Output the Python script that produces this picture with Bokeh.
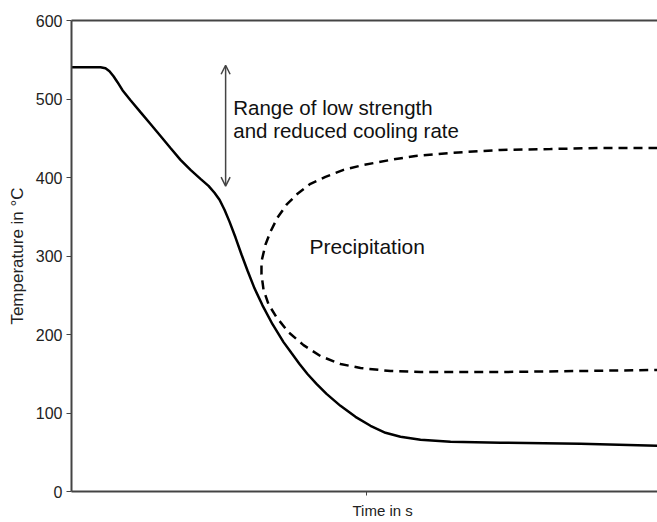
from bokeh.plotting import figure
from bokeh.models import Range1d, FixedTicker, LinearAxis, Arrow, OpenHead, Title
from bokeh.core.properties import value
from bokeh.embed import file_html
from bokeh.resources import INLINE

# ---- data (time axis has arbitrary units) ----
cool_time = [0, 4.95, 5.80, 6.48, 7.17, 7.85, 8.70, 10.07, 11.77, 13.48, 15.19, 16.89,
             18.60, 20.31, 22.01, 23.38, 24.40, 25.26, 26.11, 26.96, 27.99, 29.01,
             30.03, 31.23, 32.59, 34.30, 36.18, 37.54, 38.91, 40.27, 41.81, 43.52,
             45.90, 48.46, 51.02, 53.58, 56.14, 59.56, 64.68, 73.21, 86.86, 100.0]
cool_temp = [540.4, 540.4, 539.1, 535.3, 529.0, 521.4, 511.2, 498.5, 483.3, 468.1, 452.8, 437.6,
             422.4, 409.7, 398.3, 389.4, 380.6, 371.7, 359.0, 343.8, 323.5, 301.9,
             281.6, 258.8, 237.2, 213.1, 190.3, 176.3, 162.4, 149.7, 137.0, 124.3,
             109.1, 95.1, 83.7, 74.8, 69.8, 66.0, 63.4, 62.1, 60.9, 58.4]

precip_time = [100.0, 90.27, 81.74, 73.21, 64.68, 58.70, 54.44, 49.83, 46.42, 43.34, 40.78,
               38.57, 36.69, 35.15, 33.96, 33.11, 32.42, 32.42, 32.76, 33.62, 34.98,
               37.03, 39.59, 42.49, 45.90, 49.32, 54.44, 59.56, 73.21, 86.86, 100.0]
precip_temp = [437.6, 437.6, 436.3, 435.1, 431.3, 427.5, 422.4, 416.0, 409.7, 400.8, 392.0,
               379.3, 365.3, 348.8, 331.1, 314.6, 293.0, 276.5, 257.5, 238.5, 222.0,
               203.0, 186.5, 172.5, 162.4, 157.3, 153.5, 152.2, 152.2, 153.5, 154.8]

y_ticks = [0, 100, 200, 300, 400, 500, 600]
x_ticks = [50.3]
time_range_end = 100.0

arrow_time = 26.3
arrow_temp_top = 543
arrow_temp_bottom = 389

note_lines = ["Range of low strength", "and reduced cooling rate"]
note_time = [27.6, 27.6]
note_temp = [489.7, 460.5]

region_text = ["Precipitation"]
region_time = [40.6]
region_temp = [312]

x_label = "Time in s"
y_label = "Temperature in °C"

FONT = "Liberation Sans"
AXIS_COLOR = "#444444"

p = figure(width=657, height=522, x_range=Range1d(0, time_range_end), y_range=Range1d(0, 600),
           output_backend="svg", toolbar_location=None,
           min_border_left=71, min_border_right=0, min_border_top=20, min_border_bottom=29)
p.xgrid.visible = False
p.ygrid.visible = False
p.outline_line_color = None
p.background_fill_color = "white"
p.border_fill_color = "white"

# y axis
ya = p.yaxis[0]
ya.ticker = FixedTicker(ticks=y_ticks)
ya.axis_line_color = AXIS_COLOR
ya.axis_line_width = 2
ya.major_tick_line_color = AXIS_COLOR
ya.major_tick_in = 0
ya.major_tick_out = 5
ya.minor_tick_line_color = None
ya.major_label_standoff = 4
ya.major_label_text_font = FONT
ya.major_label_text_font_size = "16px"
ya.major_label_text_color = "#222222"
ya.axis_label = y_label
ya.axis_label_text_font = FONT
ya.axis_label_text_font_style = "normal"
ya.axis_label_text_font_size = "17px"
ya.axis_label_text_color = "#222222"
ya.axis_label_standoff = 6

# x axis (single unlabeled tick)
xa = p.xaxis[0]
xa.ticker = FixedTicker(ticks=x_ticks)
xa.axis_line_color = AXIS_COLOR
xa.axis_line_width = 2
xa.major_tick_line_color = AXIS_COLOR
xa.major_tick_in = 0
xa.major_tick_out = 4
xa.minor_tick_line_color = None
xa.major_label_overrides = {x_ticks[0]: ""}
xa.major_label_text_font_size = "1px"
xa.major_label_standoff = 0

# x axis title, placed right of centre like the reference
p.add_layout(Title(text=x_label, align="left", offset=281, standoff=8,
                   text_font=FONT, text_font_size="15px", text_font_style="normal",
                   text_color="#222222"), "below")

# top border line
top = LinearAxis(ticker=FixedTicker(ticks=[]), major_label_standoff=0,
                 major_tick_line_color=None, minor_tick_line_color=None,
                 axis_line_color=AXIS_COLOR, axis_line_width=2)
p.add_layout(top, "above")

# curves
p.line(cool_time, cool_temp, line_color="black", line_width=2.5)
p.line(precip_time, precip_temp, line_color="black", line_width=2.5, line_dash="9 6")

# arrow
p.add_layout(Arrow(x_start=arrow_time, y_start=arrow_temp_bottom, x_end=arrow_time, y_end=arrow_temp_top,
                   line_color=AXIS_COLOR, line_width=1.5,
                   start=OpenHead(size=9, line_color=AXIS_COLOR, line_width=1.5),
                   end=OpenHead(size=9, line_color=AXIS_COLOR, line_width=1.5)))

p.text(x=note_time, y=note_temp, text=note_lines, text_font=value(FONT), text_font_size="20.5px",
       text_color="#111111", text_baseline="alphabetic", text_align="left")
p.text(x=region_time, y=region_temp, text=region_text, text_font=value(FONT), text_font_size="21px",
       text_color="#111111", text_baseline="alphabetic", text_align="left")

open("out.html", "w").write(file_html(p, INLINE))
